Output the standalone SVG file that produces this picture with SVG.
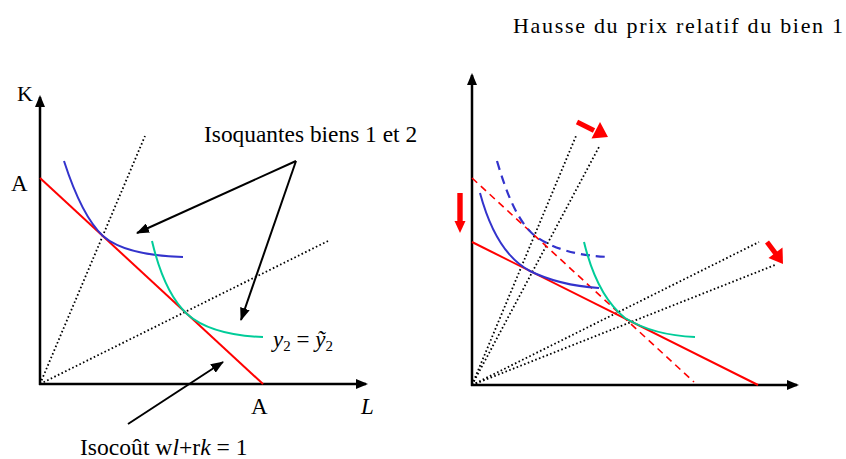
<svg xmlns="http://www.w3.org/2000/svg" width="846" height="459" viewBox="0 0 846 459">
<style>
text{font-family:"Liberation Serif","Times New Roman",serif;fill:#000}
.axis{stroke:#000;stroke-width:2.5;fill:none}
.dot{stroke:#000;stroke-width:1.8;stroke-dasharray:1.6 2.4;fill:none}
.red{stroke:#ff0000;stroke-width:2;fill:none}
.redd{stroke:#ff0000;stroke-width:1.6;stroke-dasharray:7 5;fill:none}
.blue{stroke:#3333cc;stroke-width:2;fill:none}
.blued{stroke:#3333cc;stroke-width:2.2;stroke-dasharray:9 6;fill:none}
.green{stroke:#00cc99;stroke-width:2;fill:none}
.ptr{stroke:#000;stroke-width:2;fill:none;marker-end:url(#ah)}
.bigred{fill:#ff0000}
</style>
<defs>
<marker id="ah" markerWidth="14" markerHeight="10" refX="12" refY="5" orient="auto" markerUnits="userSpaceOnUse">
<path d="M0,0 L13,5 L0,10 Z" fill="#000"/>
</marker>
<marker id="ax" markerWidth="12" markerHeight="10" refX="10" refY="5" orient="auto" markerUnits="userSpaceOnUse">
<path d="M0,0 L12,5 L0,10 Z" fill="#000"/>
</marker>
</defs>

<g id="title"><text x="513" y="33" font-size="22" textLength="330" lengthAdjust="spacing">Hausse du prix relatif du bien 1</text></g>

<g id="left-panel">
<g id="left-axes">
<line class="axis" x1="40" y1="385" x2="40" y2="97" marker-end="url(#ax)"/>
<line class="axis" x1="39" y1="384" x2="366" y2="384" marker-end="url(#ax)"/>
<text x="17" y="101" font-size="22">K</text>
<text x="11" y="191" font-size="23">A</text>
<text x="251" y="414" font-size="23">A</text>
<text x="361" y="414" font-size="23" font-style="italic">L</text>
</g>
<g id="left-rays">
<line class="dot" x1="40" y1="384" x2="145" y2="136"/>
<line class="dot" x1="40" y1="384" x2="328" y2="241"/>
</g>
<g id="left-isocost"><line class="red" x1="40" y1="178" x2="263" y2="384"/></g>
<g id="left-isoquant1"><path class="blue" d="M64,161 C75,195 88,222 103,236 C120,251 150,256 183,257"/></g>
<g id="left-isoquant2"><path class="green" d="M152,241 C160,275 172,300 187,314 C205,330 235,336 263,337"/></g>
<g id="label-isoquantes"><text x="204" y="142" font-size="23.4">Isoquantes biens 1 et 2</text></g>
<g id="label-y2"><text x="273" y="347" font-size="23"><tspan font-style="italic">y</tspan><tspan font-size="15" dy="4">2</tspan><tspan dy="-4"> = </tspan><tspan font-style="italic">ỹ</tspan><tspan font-size="15" dy="4">2</tspan></text></g>
<g id="label-isocout"><text x="80" y="455" font-size="23.6">Isocoût w<tspan font-style="italic">l</tspan>+r<tspan font-style="italic">k</tspan> = 1</text></g>
</g>

<g id="connectors">
<line class="ptr" x1="296" y1="161" x2="137" y2="233"/>
<line class="ptr" x1="296" y1="161" x2="241" y2="320"/>
<line class="ptr" x1="128" y1="424" x2="223" y2="362"/>
</g>

<g id="right-panel">
<g id="right-axes">
<line class="axis" x1="472" y1="386" x2="472" y2="75" marker-end="url(#ax)"/>
<line class="axis" x1="471" y1="385" x2="797" y2="385" marker-end="url(#ax)"/>
</g>
<g id="right-rays">
<line class="dot" x1="472" y1="385" x2="576" y2="136"/>
<line class="dot" x1="472" y1="385" x2="599" y2="147"/>
<line class="dot" x1="472" y1="385" x2="759" y2="242"/>
<line class="dot" x1="472" y1="385" x2="775" y2="265"/>
</g>
<g id="right-isocost-old"><line class="redd" x1="472" y1="178" x2="694" y2="382"/></g>
<g id="right-isocost-new"><line class="red" x1="472" y1="242" x2="758" y2="385"/></g>
<g id="right-isoquant1-old"><path class="blued" d="M497,161 C507,195 518,222 535,236 C555,250 580,256 610,257"/></g>
<g id="right-isoquant1-new"><path class="blue" d="M480,193 C490,230 505,258 530,271 C550,281 570,286 599,288"/></g>
<g id="right-isoquant2"><path class="green" d="M584,242 C592,275 605,302 625,318 C645,330 668,336 695,337"/></g>
<g id="red-arrow-down">
<rect class="bigred" x="457.3" y="193" width="5.4" height="28"/>
<path class="bigred" d="M454.5,221 L465.5,221 L460,233 Z"/>
</g>
<g id="red-arrow-top">
<line x1="577" y1="122" x2="594" y2="130.5" stroke="#ff0000" stroke-width="5"/>
<path class="bigred" d="M608,137 L591.5,138.5 L600,122 Z"/>
</g>
<g id="red-arrow-right">
<line x1="767" y1="242" x2="776" y2="254" stroke="#ff0000" stroke-width="5"/>
<path class="bigred" d="M783,264 L768.5,258 L782.5,247.5 Z"/>
</g>
</g>
</svg>
